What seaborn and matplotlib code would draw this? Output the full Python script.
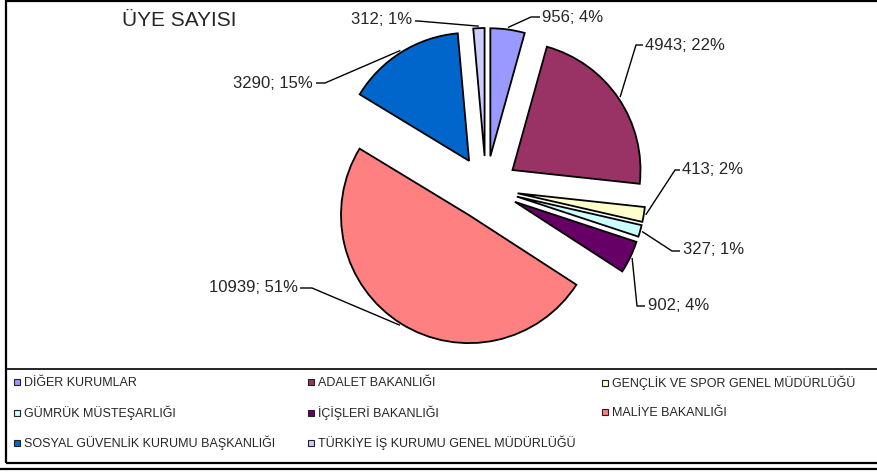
import numpy as np
import seaborn as sns
import matplotlib.pyplot as plt
from matplotlib.lines import Line2D
from matplotlib.patches import Rectangle

sns.set_style("white")
plt.rcParams["font.family"] = ["Liberation Sans", "DejaVu Sans"]

# data (clockwise from 12 o'clock)
kurumlar = ["DİĞER KURUMLAR", "ADALET BAKANLIĞI", "GENÇLİK VE SPOR GENEL MÜDÜRLÜĞÜ",
            "GÜMRÜK MÜSTEŞARLIĞI", "İÇİŞLERİ BAKANLIĞI", "MALİYE BAKANLIĞI",
            "SOSYAL GÜVENLİK KURUMU BAŞKANLIĞI", "TÜRKİYE İŞ KURUMU GENEL MÜDÜRLÜĞÜ"]
uye = [956, 4943, 413, 327, 902, 10939, 3290, 312]
yuzde = [4, 22, 2, 1, 4, 51, 15, 1]
renkler = sns.color_palette(["#9999FF", "#993366", "#FFFFCC", "#CCFFFF",
                             "#660066", "#FF8080", "#0066CC", "#CCCCFF"])

W, H = 878, 472
fig = plt.figure(figsize=(W / 100, H / 100), dpi=100)
ax = fig.add_axes([0, 0, 1, 1])

R = 128
wedges, _ = ax.pie(uye, colors=renkler, startangle=90, counterclock=False,
                   explode=[32] * len(uye), radius=R, center=(486, H - 188),
                   wedgeprops=dict(edgecolor="black", linewidth=1.3))
ax.set_xlim(0, W)
ax.set_ylim(0, H)
ax.set_aspect("equal")
ax.axis("off")

# label layout in screen pixels: elbow, line end, text pos, alignment
leaders = [
    ((531, 17), (540, 17), (542, 17), "left"),
    ((636, 45), (643, 45), (645, 45), "left"),
    ((675, 170), (680, 170), (682, 169), "left"),
    ((672, 251), (680, 251), (683, 250), "left"),
    ((637, 306), (645, 306), (648, 305), "left"),
    ((312, 288), (300, 288), (298, 288), "right"),
    ((325, 83), (316, 83), (313, 83), "right"),
    ((418, 21), (415, 21), (412, 20), "right"),
]

for w, v, p, (elb, end, txt, ha) in zip(wedges, uye, yuzde, leaders):
    mid = np.deg2rad((w.theta1 + w.theta2) / 2)
    cx, cy = w.center
    ax_x = cx + (R + 2) * np.cos(mid)
    ax_y = cy + (R + 2) * np.sin(mid)
    ax.plot([ax_x, elb[0], end[0]], [ax_y, H - elb[1], H - end[1]],
            color="black", lw=1, solid_capstyle="butt")
    ax.text(txt[0], H - txt[1], f"{v}; {p}%", ha=ha, va="center", fontsize=12)

fig.text(122 / W, 1 - 20 / H, "ÜYE SAYISI", ha="left", va="center", fontsize=15)

# legend: row-wise grid like the original, one entry per slot
col_x = [13, 307, 601]
row_y = [383, 413, 443]
for i, ad in enumerate(kurumlar):
    r, c = divmod(i, 3)
    h = Line2D([], [], marker="s", ls="", markersize=5, markerfacecolor=renkler[i],
               markeredgecolor="#222222", markeredgewidth=0.8)
    fig.legend([h], [ad], loc="center left",
               bbox_to_anchor=(col_x[c] / W, 1 - row_y[r] / H), frameon=False,
               fontsize=9, borderpad=0, borderaxespad=0, handlelength=0.6,
               handletextpad=0.3)

# chart area frame and legend separator
fig.add_artist(Rectangle((6 / W, 1 - 463 / H), 1.0, (463 - 1) / H,
                         transform=fig.transFigure, fill=False,
                         edgecolor="black", lw=1.6))
fig.add_artist(Line2D([6 / W, 1], [1 - 369 / H] * 2, transform=fig.transFigure,
                      color="black", lw=1.2))
fig.add_artist(Line2D([0, 1], [1 - 469 / H] * 2, transform=fig.transFigure,
                      color="black", lw=1.6))

fig.savefig("out.png", dpi=100)
